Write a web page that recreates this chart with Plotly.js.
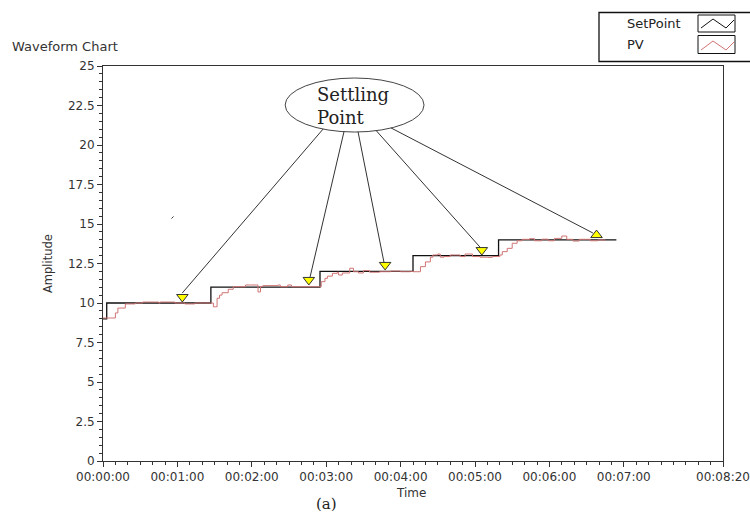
<!DOCTYPE html>
<html>
<head>
<meta charset="utf-8">
<script src="https://cdn.plot.ly/plotly-3.0.1.min.js"></script>
<style>
html,body{margin:0;padding:0;background:#fff;}
#chart{width:750px;height:514px;}
</style>
</head>
<body>
<div id="chart"></div>
<script>
// ---- Data (time in seconds, amplitude) ----
const setPointT = [0, 3, 87, 175, 250, 319, 414];
const setPointV = [9, 10, 11, 12, 13, 14, 14];

const pvT = [0, 6, 10, 12, 18, 26, 32, 42, 45, 46, 56, 58, 66, 74, 82, 87, 89, 91, 92, 94, 96, 101, 105, 115, 119, 124, 125, 127, 129, 141, 143, 149, 152, 159, 170, 173,
             176, 179, 181, 185, 189, 190, 193, 199, 202, 206, 210, 215, 223, 232, 240, 248,
             250, 256, 260, 264, 266, 270, 272, 275, 280, 284, 288, 292, 298, 304, 310, 314, 318,
             320, 322, 326, 330, 334, 338, 344, 348, 354, 359, 364, 370, 374, 379, 384, 393, 399, 405];
const pvV = [9.05, 9.05, 9.37, 9.68, 9.94, 10.0, 10.06, 10.06, 10.0, 10.06, 10.06, 10.0, 9.94, 10.0, 10.0, 10.0, 9.76, 9.76, 10.3, 10.5, 10.65, 10.87, 11.03, 11.14, 11.14, 11.14, 10.7, 11.05, 11.1, 11.14, 11.03, 11.14, 11.03, 11.03, 11.03, 11.03,
             11.35, 11.56, 11.7, 11.88, 11.95, 11.77, 11.9, 12.2, 11.98, 11.9, 12.05, 11.95, 11.98, 12.02, 11.98, 12.0,
             11.98, 12.3, 12.6, 12.9, 13.04, 13.1, 12.9, 12.94, 13.04, 13.04, 12.94, 13.1, 12.94, 12.9, 12.89, 12.94, 12.94,
             13.04, 13.25, 13.46, 13.78, 13.94, 14.03, 14.07, 13.94, 14.04, 13.94, 14.09, 14.24, 14.03, 13.92, 14.03, 13.94, 13.99, 13.94];

// Settling points marked on the chart
const settleT = [64, 166, 227.5, 305.5, 398];
const settleV = [10.38, 11.46, 12.41, 13.35, 14.30];
const settleSym = ['triangle-down', 'triangle-down', 'triangle-down', 'triangle-down', 'triangle-up'];
// Callout line start points (on the ellipse) and end points (near markers)
const calloutStartT = [177.5, 194.4, 205.7, 220.2, 232.3];
const calloutStartV = [21.01, 20.86, 20.83, 20.92, 21.08];
const calloutEndT = [63.9, 167.0, 226.7, 304.0, 395.1];
const calloutEndV = [10.63, 11.65, 12.53, 13.54, 14.43];

const xTickVals = [0, 60, 120, 180, 240, 300, 360, 420, 500];
const xTickText = ['00:00:00', '00:01:00', '00:02:00', '00:03:00', '00:04:00', '00:05:00', '00:06:00', '00:07:00', '00:08:20'];
const yTickVals = [0, 2.5, 5, 7.5, 10, 12.5, 15, 17.5, 20, 22.5, 25];
const yTickText = ['0', '2.5', '5', '7.5', '10', '12.5', '15', '17.5', '20', '22.5', '25'];

const legendNames = ['SetPoint', 'PV'];
const lineColors = ['#111111', '#d07474'];

// ---- Layout geometry ----
const W = 750, H = 514, ML = 103, MR = 27, MT = 66, MB = 53;
const PW = W - ML - MR, PH = H - MT - MB;
const px = xp => (xp - ML) / PW;
const py = yp => (H - MB - yp) / PH;

const fontSans = 'DejaVu Sans, Open Sans, sans-serif';
const fontSerif = 'DejaVu Serif, Liberation Serif, serif';
const textCol = '#333333';

const traces = [
  {x: setPointT, y: setPointV, type: 'scatter', mode: 'lines', name: legendNames[0],
   line: {color: lineColors[0], width: 1.3, shape: 'hv'}, hoverinfo: 'skip'},
  {x: pvT, y: pvV, type: 'scatter', mode: 'lines', name: legendNames[1],
   line: {color: lineColors[1], width: 1, shape: 'hv'}, hoverinfo: 'skip'},
  {x: settleT, y: settleV, type: 'scatter', mode: 'markers', name: 'Settling',
   marker: {symbol: settleSym, size: 10, color: '#ffff00', line: {color: '#333', width: 1}}, hoverinfo: 'skip'}
];

const shapes = [];
// ellipse callout
shapes.push({type: 'circle', xref: 'x', yref: 'y', x0: 146.9, x1: 258.9, y0: 20.82, y1: 24.24,
  line: {color: '#444', width: 1}, fillcolor: 'rgba(0,0,0,0)', layer: 'above'});
for (let i = 0; i < calloutStartT.length; i++) {
  shapes.push({type: 'line', xref: 'x', yref: 'y', x0: calloutStartT[i], y0: calloutStartV[i],
    x1: calloutEndT[i], y1: calloutEndV[i], line: {color: '#333', width: 1}});
}
// small stray tick visible inside the plot of the original
shapes.push({type: 'line', xref: 'paper', yref: 'paper', x0: px(171.5), y0: py(218.5), x1: px(173.5), y1: py(216.5),
  line: {color: '#333', width: 1}});
// legend box (LabVIEW style)
shapes.push({type: 'rect', xref: 'paper', yref: 'paper', x0: px(599), x1: px(770), y0: py(61.5), y1: py(12.5),
  line: {color: '#111', width: 1.3}});
shapes.push({type: 'rect', xref: 'paper', yref: 'paper', x0: px(698), x1: px(735), y0: py(32), y1: py(15),
  line: {color: '#111', width: 1}});
shapes.push({type: 'rect', xref: 'paper', yref: 'paper', x0: px(698), x1: px(735), y0: py(53.5), y1: py(35.5),
  line: {color: '#111', width: 1}});
const zig = (pts) => 'M' + pts.map(p => px(p[0]) + ',' + py(p[1])).join(' L');
shapes.push({type: 'path', xref: 'paper', yref: 'paper', path: zig([[701, 28], [713, 19], [726, 28], [734, 20]]),
  line: {color: lineColors[0], width: 1}});
shapes.push({type: 'path', xref: 'paper', yref: 'paper', path: zig([[701, 50], [713, 41], [726, 50], [734, 42]]),
  line: {color: lineColors[1], width: 1}});

const annotations = [
  {text: 'Settling<br>Point', xref: 'x', yref: 'y', x: 171.1, y: 22.47, xanchor: 'left', yanchor: 'middle',
   align: 'left', showarrow: false, font: {family: fontSerif, size: 18, color: '#222'}},
  {text: 'Amplitude', xref: 'paper', yref: 'paper', x: px(48), y: py(264), textangle: -90,
   xanchor: 'center', yanchor: 'middle', showarrow: false, font: {family: fontSans, size: 11.5, color: textCol}},
  {text: 'Time', xref: 'paper', yref: 'paper', x: px(411), y: py(493),
   xanchor: 'center', yanchor: 'middle', showarrow: false, font: {family: fontSans, size: 12, color: textCol}},
  {text: '(a)', xref: 'paper', yref: 'paper', x: px(326), y: py(504),
   xanchor: 'center', yanchor: 'middle', showarrow: false, font: {family: fontSerif, size: 15, color: '#222'}},
  {text: legendNames[0], xref: 'paper', yref: 'paper', x: px(625), y: py(23.5),
   xanchor: 'left', yanchor: 'middle', showarrow: false, font: {family: fontSans, size: 13, color: '#222'}},
  {text: legendNames[1], xref: 'paper', yref: 'paper', x: px(625), y: py(44.5),
   xanchor: 'left', yanchor: 'middle', showarrow: false, font: {family: fontSans, size: 13, color: '#222'}}
];

const layout = {
  width: W, height: H,
  margin: {l: ML, r: MR, t: MT, b: MB, pad: 0},
  paper_bgcolor: '#ffffff', plot_bgcolor: '#ffffff',
  showlegend: false,
  title: {text: 'Waveform Chart', xref: 'container', yref: 'container', x: 12 / W, y: 1 - 46 / H,
          xanchor: 'left', yanchor: 'middle', font: {family: fontSans, size: 13, color: textCol}},
  xaxis: {range: [0, 500], tickmode: 'array', tickvals: xTickVals, ticktext: xTickText,
          showgrid: false, zeroline: false, showline: true, mirror: true, linecolor: '#333', linewidth: 1,
          ticks: 'outside', ticklen: 5, tickcolor: '#333', tickwidth: 1,
          minor: {tickmode: 'linear', tick0: 0, dtick: 10, ticks: 'outside', ticklen: 3, tickcolor: '#333', showgrid: false},
          tickfont: {family: fontSans, size: 12, color: textCol}, fixedrange: true},
  yaxis: {range: [0, 25], tickmode: 'array', tickvals: yTickVals, ticktext: yTickText,
          showgrid: false, zeroline: false, showline: true, mirror: true, linecolor: '#333', linewidth: 1,
          ticks: 'outside', ticklen: 5, tickcolor: '#333', tickwidth: 1,
          minor: {tickmode: 'linear', tick0: 0, dtick: 0.5, ticks: 'outside', ticklen: 3, tickcolor: '#333', showgrid: false},
          tickfont: {family: fontSans, size: 12, color: textCol}, fixedrange: true},
  shapes: shapes,
  annotations: annotations
};

Plotly.newPlot('chart', traces, layout, {displayModeBar: false, staticPlot: true});
</script>
</body>
</html>
